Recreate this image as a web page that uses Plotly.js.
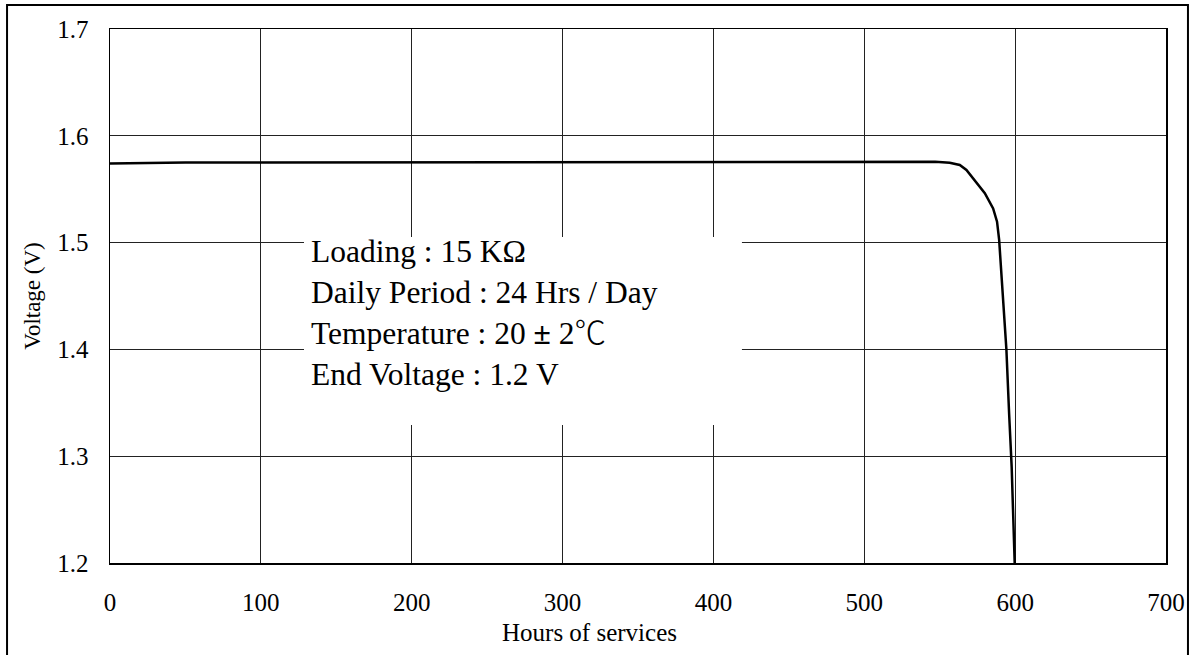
<!DOCTYPE html>
<html>
<head>
<meta charset="utf-8">
<script src="https://cdn.plot.ly/plotly-3.0.1.min.js"></script>
<style>
html,body{margin:0;padding:0;background:#fff;}
#chart{width:1194px;height:655px;}
</style>
</head>
<body>
<div id="chart"></div>
<script>
// Discharge curve
const hours = [0, 20, 50, 100, 200, 300, 400, 500, 540, 547, 556.6, 563.3, 567.7, 573.2, 579.9, 585.4, 588, 589.4, 591, 592.5, 594.2, 596, 597.7, 599.7];
const volts = [1.574, 1.5745, 1.575, 1.575, 1.575, 1.575, 1.575, 1.575, 1.575, 1.5757, 1.5748, 1.5727, 1.568, 1.5586, 1.5462, 1.532, 1.5196, 1.5025, 1.47, 1.44, 1.40, 1.34, 1.29, 1.20];

const xTicks = [0, 100, 200, 300, 400, 500, 600, 700];
const yTicks = [1.2, 1.3, 1.4, 1.5, 1.6, 1.7];
const yTickLabels = ['1.2', '1.3', '1.4', '1.5', '1.6', '1.7'];

const conditions = [
  'Loading : 15 K\u03A9',
  'Daily Period : 24 Hrs / Day',
  'Temperature : 20 <b>\u00B1</b> 2<span style="font-family:\'Noto Sans CJK JP\';font-weight:300">\u2103</span>',
  'End Voltage : 1.2 V'
];

const xTitle = 'Hours of services';
const yTitle = 'Voltage (V)';

const serif = '"Liberation Serif", "Times New Roman", serif';

const trace = {
  x: hours,
  y: volts,
  type: 'scatter',
  mode: 'lines',
  line: {color: '#000', width: 2.5},
  hoverinfo: 'skip'
};

const layout = {
  width: 1194,
  height: 655,
  margin: {l: 110, r: 28, t: 29, b: 92},
  paper_bgcolor: '#fff',
  plot_bgcolor: '#fff',
  showlegend: false,
  font: {family: serif, color: '#000', size: 25},
  xaxis: {
    range: [0, 700],
    tickvals: xTicks,
    ticktext: xTicks.map(String),
    ticks: 'outside',
    ticklen: 16,
    tickcolor: 'rgba(0,0,0,0)',
    tickfont: {family: serif, size: 25, color: '#000'},
    showgrid: true,
    gridcolor: '#222',
    gridwidth: 1,
    zeroline: false,
    showline: true,
    mirror: true,
    linecolor: '#000',
    linewidth: 1.5,
    fixedrange: true
  },
  yaxis: {
    range: [1.2, 1.7],
    tickvals: yTicks,
    ticktext: yTickLabels,
    ticks: 'outside',
    ticklen: 15,
    tickcolor: 'rgba(0,0,0,0)',
    tickfont: {family: serif, size: 25, color: '#000'},
    showgrid: true,
    gridcolor: '#222',
    gridwidth: 1,
    zeroline: false,
    showline: true,
    mirror: true,
    linecolor: '#000',
    linewidth: 1.5,
    title: {text: yTitle, font: {family: serif, size: 23, color: '#000'}, standoff: 10},
    fixedrange: true
  },
  shapes: [
    // white box behind the test conditions
    {type: 'rect', xref: 'x', yref: 'y', x0: 128.6, x1: 418.9, y0: 1.3292, y1: 1.5052,
     fillcolor: '#fff', line: {width: 0}, layer: 'between'},
    // outer frame around the figure
    {type: 'rect', xref: 'paper', yref: 'paper', x0: -0.0975, x1: 1.0208, y0: -0.2, y1: 1.045,
     fillcolor: 'rgba(0,0,0,0)', line: {color: '#000', width: 2}, layer: 'above'}
  ],
  annotations: [
    {xref: 'x', yref: 'y', x: 132, y: 1.434, xanchor: 'left', yanchor: 'middle',
     align: 'left', showarrow: false, text: conditions.join('<br>'),
     font: {family: serif, size: 31.5, color: '#000'}},
    {xref: 'paper', yref: 'paper', x: 0.4536, y: -0.131, xanchor: 'center', yanchor: 'middle',
     showarrow: false, text: xTitle, font: {family: serif, size: 25, color: '#000'}}
  ]
};

Plotly.newPlot('chart', [trace], layout, {displayModeBar: false, staticPlot: true});
</script>
</body>
</html>
